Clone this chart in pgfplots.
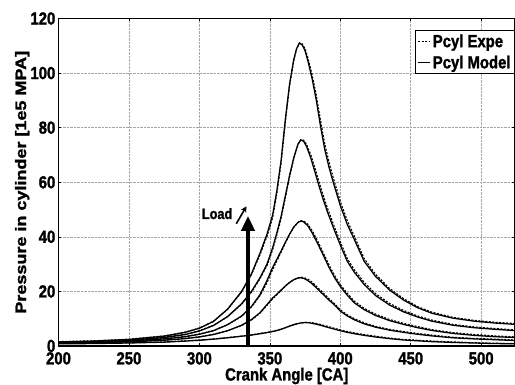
\documentclass[border=0pt]{standalone}
\usepackage{fontspec}
\setmainfont{Liberation Sans}[FakeStretch=0.85, BoldFeatures={FakeBold=1.5}]
\newfontfamily\ylabfont{Liberation Sans}[BoldFeatures={FakeBold=1.5}]
\usepackage{graphicx}
\usepackage{pgfplots}
\pgfplotsset{compat=1.18}
\usepackage{pgfplotstable}
\usetikzlibrary{arrows.meta}

\pgfplotstableread{
x y
200 1.5
225 1.8
250 2.4
275 3.6
290 5.0
300 6.5
310 9.0
320 13.5
330 20
337 26.5
343 34
348 41
352 48
355 57
358 68
361 83
364 96
367 105
369 109
371 111
373 110.3
375 108.2
377 104.5
380 98
383 90
386 80.5
389 72
392 65.5
395 60
400 51.5
405 44.5
410 39
417 31
425 25.5
435 20.5
445 16.8
455 14
465 12
480 10.2
495 9.1
510 8.4
525 7.9
}\modelA
\pgfplotstableread{
x y
200 1.6
225 1.9
250 2.5
275 3.7
290 5.1
300 6.6
310 9.1
320 13.4
330 19.8
337 26.2
343 33.4
348 40.2
352 47
355 56
358 67
361 82
364 95.3
367 104.6
369 108.8
371 111
373 110.7
375 108.9
377 105.6
380 99.4
383 91.8
386 82.6
389 74
392 67.4
395 61.7
400 53
405 45.9
410 40.2
417 32
425 26.3
435 21.1
445 17.3
455 14.4
465 12.4
480 10.5
495 9.4
510 8.7
525 8.2
}\expeA
\pgfplotstableread{
x y
200 1.3
225 1.6
250 2.1
275 3.1
290 4.2
300 5.5
310 7.5
320 10.8
330 15.5
337 20
343 25
348 30
352 36
355 41.5
358 47.5
361 55
364 62.5
367 69
370 74
372 75.5
374 75
376 73.2
379 69
382 63.8
385 58.5
388 53.5
391 49
395 43.5
400 37
405 31
410 27
417 22.5
425 18.5
435 15
445 12.5
455 10.6
465 9.1
480 7.6
495 6.7
510 6.1
525 5.6
}\modelB
\pgfplotstableread{
x y
200 1.4
225 1.7
250 2.2
275 3.2
290 4.3
300 5.6
310 7.6
320 10.7
330 15.3
337 19.7
343 24.6
348 29.5
352 35.3
355 40.8
358 46.8
361 54.3
364 62
367 68.7
370 73.9
372 75.6
374 75.4
376 73.9
379 70.2
382 65.2
385 60
388 55
391 50.4
395 44.8
400 38.2
405 32
410 27.9
417 23.3
425 19.2
435 15.6
445 13
455 11
465 9.5
480 7.9
495 7
510 6.4
525 5.9
}\expeB
\pgfplotstableread{
x y
200 1.1
225 1.4
250 1.8
275 2.6
290 3.4
300 4.3
310 5.6
320 7.8
330 11
337 14.5
343 18.8
348 24
352 28.8
355 31.8
358 34.8
361 38
364 41
367 43.6
370 45.3
372 45.8
374 45.5
377 44
380 41.5
384 37.5
388 33.2
392 28.8
396 25
400 21.8
405 18.6
410 15.8
417 13.3
425 11.2
435 9.3
445 7.9
455 6.7
465 5.7
480 4.6
495 3.9
510 3.4
525 3.1
}\modelC
\pgfplotstableread{
x y
200 1.2
225 1.5
250 1.9
275 2.7
290 3.5
300 4.4
310 5.7
320 7.8
330 10.9
337 14.3
343 18.4
348 23.2
352 28
355 31.2
358 34.4
361 37.7
364 40.8
367 43.5
370 45.3
372 45.9
374 45.8
377 44.6
380 42.3
384 38.4
388 34.1
392 29.7
396 25.8
400 22.5
405 19.3
410 16.4
417 13.8
425 11.7
435 9.7
445 8.3
455 7.1
465 6
480 4.9
495 4.2
510 3.7
525 3.3
}\expeC
\pgfplotstableread{
x y
200 1.0
225 1.2
250 1.5
275 2.1
290 2.7
300 3.3
310 4.2
320 5.6
330 7.6
337 9.7
343 12.2
348 15.2
352 17.6
355 19
358 20.5
361 22
364 23.3
367 24.3
370 24.9
372 25
374 24.8
377 24
380 22.8
384 20.8
388 18.8
392 16.8
396 15
400 12.8
405 11
410 9.6
417 8.1
425 6.9
435 5.8
445 5
455 4.3
465 3.7
480 3
495 2.6
510 2.3
525 2.0
}\modelD
\pgfplotstableread{
x y
200 1.1
225 1.3
250 1.6
275 2.2
290 2.8
300 3.4
310 4.3
320 5.6
330 7.5
337 9.5
343 12
348 14.9
352 17.3
355 18.8
358 20.3
361 21.9
364 23.2
367 24.3
370 25
372 25.2
374 25.1
377 24.5
380 23.4
384 21.4
388 19.4
392 17.3
396 15.5
400 13.3
405 11.4
410 10
417 8.5
425 7.2
435 6.1
445 5.3
455 4.6
465 4
480 3.2
495 2.8
510 2.5
525 2.2
}\expeD
\pgfplotstableread{
x y
200 0.8
225 0.9
250 1.1
275 1.4
290 1.8
300 2.1
310 2.5
320 3
330 3.6
337 4
343 4.5
348 4.9
352 5.3
356 5.8
360 6.5
364 7.3
368 8
372 8.45
375 8.6
378 8.5
382 8.1
386 7.6
390 7
395 6.3
400 5.6
405 5
410 4.5
417 3.9
425 3.3
435 2.7
445 2.2
455 1.9
465 1.6
480 1.3
495 1.1
510 0.9
525 0.8
}\modelE
\pgfplotstableread{
x y
200 0.9
225 1.0
250 1.2
275 1.5
290 1.9
300 2.2
310 2.6
320 3.1
330 3.6
337 4.1
343 4.6
348 5.0
352 5.4
356 5.9
360 6.5
364 7.2
368 7.9
372 8.4
375 8.65
378 8.65
382 8.4
386 7.9
390 7.35
395 6.6
400 5.9
405 5.3
410 4.8
417 4.2
425 3.6
435 2.9
445 2.4
455 2.1
465 1.8
480 1.5
495 1.2
510 1.0
525 0.9
}\expeE

\newcommand{\tickfont}{\fontsize{17.5}{18}\selectfont\bfseries}

\begin{document}
\begin{tikzpicture}
\begin{axis}[
  name=main,
  scale only axis,
  width=456.5pt, height=327.5pt,
  xmin=200, xmax=524, ymin=0, ymax=120,
  xtick={200,250,...,500},
  ytick={0,20,...,120},
  grid=major,
  grid style={densely dotted, gray!70, line width=0.5pt},
  axis line style={line width=1.4pt},
  major tick length=3pt,
  tick align=inside,
  tick style={black, line width=0.6pt},
  /pgf/number format/assume math mode=true,
  tick label style={font=\tickfont},
  xticklabel style={inner sep=1pt, yshift=-5pt},
  yticklabel style={inner sep=1pt, xshift=-2pt},
  xlabel={\tickfont Crank Angle [CA]},
  xlabel style={inner sep=0pt, yshift=-2pt},
  ylabel={\ylabfont\fontsize{18}{18}\selectfont\bfseries\scalebox{1}[0.85]{Pressure in cylinder [1e5 MPA]}},
  ylabel style={inner sep=0pt, yshift=0pt},
  legend style={at={(1,0.965)}, anchor=north east, draw=black, line width=1pt,
    font=\tickfont, inner sep=2pt, row sep=3pt, cells={anchor=west}},
  legend cell align=left,
  legend image code/.code={\draw[#1] (0pt,0pt) -- (12pt,0pt);},
  every axis plot/.append style={black},
]
\addplot[dash pattern=on 2pt off 1.5pt, line width=1.1pt] table {\expeA};
\addplot[dash pattern=on 2pt off 1.5pt, line width=1.1pt, forget plot] table {\expeB};
\addplot[dash pattern=on 2pt off 1.5pt, line width=1.1pt, forget plot] table {\expeC};
\addplot[dash pattern=on 2pt off 1.5pt, line width=1.1pt, forget plot] table {\expeD};
\addplot[dash pattern=on 2pt off 1.5pt, line width=1.1pt, forget plot] table {\expeE};
\addplot[solid, line width=1.3pt] table {\modelA};
\addplot[solid, line width=1.3pt, forget plot] table {\modelB};
\addplot[solid, line width=1.3pt, forget plot] table {\modelC};
\addplot[solid, line width=1.3pt, forget plot] table {\modelD};
\addplot[solid, line width=1.3pt, forget plot] table {\modelE};
\legend{Pcyl Expe, Pcyl Model}
\draw[line width=4pt, -{Triangle[width=13pt,length=15pt]}] (axis cs:334.5,0) -- (axis cs:334.5,47.7);
\node[anchor=east, inner sep=0pt, font=\fontsize{15}{15}\selectfont\bfseries] at (axis cs:323.5,48.5) {Load};
\draw[line width=1.6pt, -{Stealth[length=6pt,width=6pt]}] (axis cs:326.2,44.8) -- (axis cs:333.4,51.2);
\end{axis}
\pgfresetboundingbox
\path[use as bounding box] ([shift={(-58.5pt,-39pt)}]main.south west) rectangle ([shift={(456.5pt,346pt)}]main.south west);
\end{tikzpicture}
\end{document}
